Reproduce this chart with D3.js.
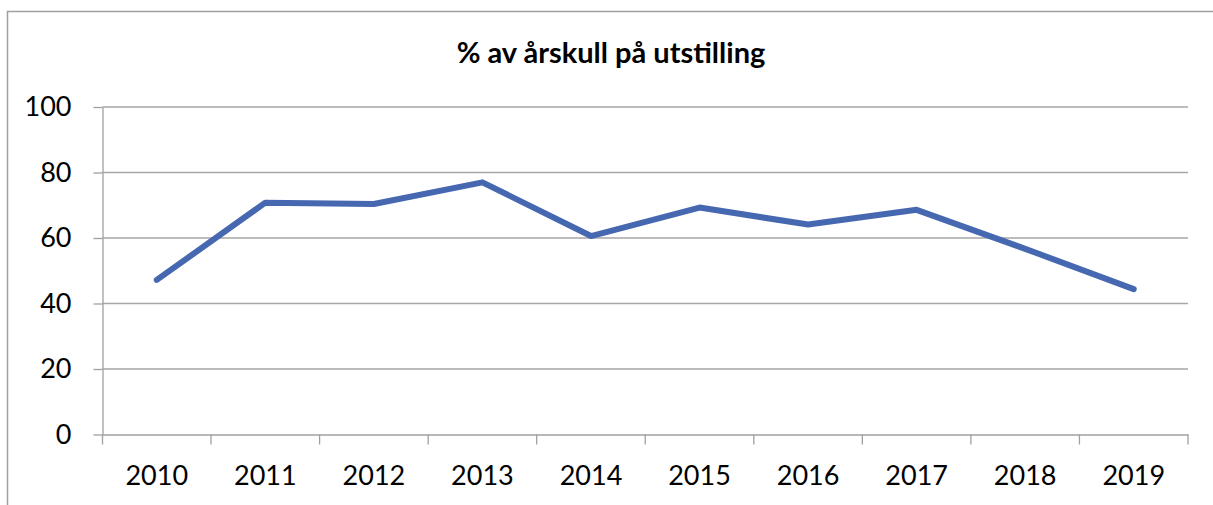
<!DOCTYPE html>
<html>
<head>
<meta charset="utf-8">
<script src="https://cdn.jsdelivr.net/npm/d3@7"></script>
<style>
  body { margin: 0; background: #fff; }
  svg { display: block; font-family: Lato, "Open Sans", sans-serif; }
  .axis path, .axis line { stroke: #a0a0a0; stroke-width: 1.3; }
  .axis text { fill: #000; font-size: 27px; font-family: Lato, sans-serif; }
  .grid line { stroke: #a6a6a6; stroke-width: 1.5; }
  .line { fill: none; stroke: #4668b0; stroke-width: 6; stroke-linejoin: round; stroke-linecap: round; }
</style>
</head>
<body>
<div id="chart"></div>
<script>
// Chart data
var years = ["2010", "2011", "2012", "2013", "2014", "2015", "2016", "2017", "2018", "2019"];
var percentShown = [47.2, 70.8, 70.4, 77.0, 60.6, 69.3, 64.1, 68.6, 56.7, 44.4];
var yTicks = [0, 20, 40, 60, 80, 100];
var chartTitle = "% av årskull på utstilling";

// SVG area dimensions
var svgWidth = 1213;
var svgHeight = 505;

var chartMargin = {
  top: 107,
  right: 25,
  bottom: 70.5,
  left: 102.5
};

var chartWidth = svgWidth - chartMargin.left - chartMargin.right;
var chartHeight = svgHeight - chartMargin.top - chartMargin.bottom;

var svg = d3.select("#chart")
  .append("svg")
  .attr("width", svgWidth)
  .attr("height", svgHeight);

// outer chart border (runs off the right and bottom edge)
svg.append("rect")
  .attr("x", 7.5)
  .attr("y", 11.5)
  .attr("width", 1300)
  .attr("height", 600)
  .attr("fill", "none")
  .attr("stroke", "#a0a0a0")
  .attr("stroke-width", 1.5);

// title
svg.append("text")
  .attr("x", 611)
  .attr("y", 63)
  .attr("text-anchor", "middle")
  .style("font-size", "29px")
  .style("font-weight", "bold")
  .text(chartTitle);

var chartGroup = svg.append("g")
  .attr("transform", `translate(${chartMargin.left}, ${chartMargin.top})`);

var xScale = d3.scaleBand()
  .domain(years)
  .range([0, chartWidth]);

var yScale = d3.scaleLinear()
  .domain([0, 100])
  .range([chartHeight, 0]);

// horizontal gridlines
chartGroup.append("g")
  .attr("class", "grid")
  .selectAll("line")
  .data(yTicks.filter(d => d > 0))
  .enter()
  .append("line")
  .attr("x1", 0)
  .attr("x2", chartWidth)
  .attr("y1", d => yScale(d))
  .attr("y2", d => yScale(d));

// y axis
var leftAxis = d3.axisLeft(yScale).tickValues(yTicks).tickSize(9).tickPadding(22).tickSizeOuter(0);
var yAxisG = chartGroup.append("g")
  .attr("class", "axis")
  .call(leftAxis);

// x axis with tick marks on category boundaries
var bottomAxis = d3.axisBottom(xScale).tickSize(0).tickPadding(31).tickSizeOuter(0);
var xAxisG = chartGroup.append("g")
  .attr("class", "axis")
  .attr("transform", `translate(0, ${chartHeight})`)
  .call(bottomAxis);

xAxisG.selectAll(".boundary")
  .data(years.concat(["end"]))
  .enter()
  .append("line")
  .attr("class", "boundary")
  .attr("x1", (d, i) => i * xScale.step())
  .attr("x2", (d, i) => i * xScale.step())
  .attr("y1", 0)
  .attr("y2", 10);

// the line
var drawLine = d3.line()
  .x((d, i) => xScale(years[i]) + xScale.bandwidth() / 2)
  .y(d => yScale(d));

chartGroup.append("path")
  .attr("d", drawLine(percentShown))
  .classed("line", true);
</script>
</body>
</html>
